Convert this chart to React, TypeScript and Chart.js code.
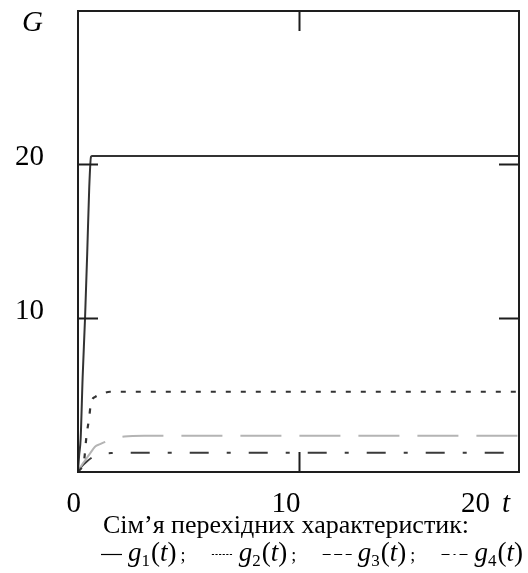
import React, { useEffect, useRef } from "react";
import { Chart, registerables } from "chart.js";

Chart.register(...registerables);

// ---- data ----
const t1 = [0, 0.05, 0.12, 0.21, 0.32, 0.42, 0.51, 0.59, 0.65, 20];
const g1 = [0, 1.0, 2.1, 6.1, 10, 14.3, 18.5, 20.5, 20.55, 20.55];

const t2 = [0, 0.1, 0.2, 0.27, 0.39, 0.5, 0.59, 0.8, 1.03, 1.45, 20];
const g2 = [0, 0.1, 0.3, 0.6, 2.35, 3.4, 4.45, 4.85, 5.0, 5.17, 5.17];

const t3 = [0, 0.2, 0.4, 0.55, 0.77, 1.0, 1.23, 1.6, 2.1, 3, 20];
const g3 = [0, 0.45, 0.85, 1.15, 1.58, 1.75, 1.9, 2.1, 2.25, 2.3, 2.3];

const t4 = [0, 0.2, 0.4, 0.6, 0.8, 1.0, 1.5, 2, 20];
const g4 = [0, 0.35, 0.62, 0.85, 1.0, 1.1, 1.17, 1.19, 1.19];

const xTicks = [0, 10, 20];
const yTicks = [10, 20];
const xTickLabels = ["0", "10", "20"];
const yTickLabels = ["10", "20"];
const xTitle = "t";
const yTitle = "G";
const captionTitle = "Сім’я перехідних характеристик:";
const seriesNames = ["g", "g", "g", "g"];
const seriesSubs = ["1", "2", "3", "4"];

const W = 528;
const H = 573;
const SERIF = '"Liberation Serif", "Times New Roman", serif';

const toPts = (ts: number[], vs: number[]) => ts.map((t, i) => ({ x: t, y: vs[i] }));

const sampleStyles: { dash: number[]; w: number }[] = [
  { dash: [], w: 21 },
  { dash: [2.2, 1.4], w: 21 },
  { dash: [8, 3.5], w: 29 },
  { dash: [8, 4, 2, 4], w: 27 },
];

const decorPlugin = {
  id: "mathcadDecor",
  afterDatasetsDraw(chart: any) {
    const ctx: CanvasRenderingContext2D = chart.ctx;
    const { left, right, top, bottom } = chart.chartArea;
    const xs = chart.scales.x;
    const ys = chart.scales.y;
    ctx.save();
    // frame
    ctx.strokeStyle = "#1e1e1e";
    ctx.lineWidth = 2;
    ctx.strokeRect(left, top, right - left, bottom - top + 1);
    // inner ticks
    const TL = 20;
    ctx.beginPath();
    yTicks.forEach((v) => {
      const py = Math.round(ys.getPixelForValue(v)) + 0.5;
      ctx.moveTo(left, py);
      ctx.lineTo(left + TL, py);
      ctx.moveTo(right, py);
      ctx.lineTo(right - TL, py);
    });
    xTicks.slice(1, -1).forEach((v) => {
      const px = Math.round(xs.getPixelForValue(v)) + 0.5;
      ctx.moveTo(px, bottom + 1);
      ctx.lineTo(px, bottom + 1 - TL);
      ctx.moveTo(px, top);
      ctx.lineTo(px, top + TL);
    });
    ctx.stroke();

    // tick labels
    ctx.fillStyle = "#000";
    ctx.font = `29px ${SERIF}`;
    ctx.textBaseline = "alphabetic";
    ctx.textAlign = "right";
    const xOff = [3, 2, -29];
    xTicks.forEach((v, i) => {
      ctx.fillText(xTickLabels[i], xs.getPixelForValue(v) + xOff[i], bottom + 41);
    });
    yTicks.forEach((v, i) => {
      ctx.fillText(yTickLabels[i], left - 34, ys.getPixelForValue(v) + 1);
    });
    ctx.textAlign = "left";
    ctx.font = `italic 29px ${SERIF}`;
    ctx.fillText(yTitle, 22, 31);
    ctx.fillText(xTitle, 502, bottom + 41);

    // caption line 1
    ctx.font = `26px ${SERIF}`;
    ctx.textAlign = "center";
    ctx.fillText(captionTitle, 286, 533);

    // caption line 2 (legend row), spread from x0 to x1
    ctx.textAlign = "left";
    const baseY = 561;
    const FS = 27;
    const SUB = 17;
    const SEMI = 18;
    const LG = 6; // sample -> name gap
    const SG = 4; // ")" -> ";" gap
    const meas = (f: string, s: string) => {
      ctx.font = f;
      return ctx.measureText(s).width;
    };
    const fIt = `italic ${FS}px ${SERIF}`;
    const fRm = `${FS}px ${SERIF}`;
    const fSub = `${SUB}px ${SERIF}`;
    const fSemi = `${SEMI}px ${SERIF}`;
    const groupW = (i: number) =>
      meas(fIt, seriesNames[i]) + meas(fSub, seriesSubs[i]) + meas(fRm, "(") + meas(fIt, "t") + meas(fRm, ")") + 1;
    const semiW = meas(fSemi, ";");
    const x0 = 101;
    const x1 = 523;
    let natural = 0;
    sampleStyles.forEach((s, i) => {
      natural += s.w + LG + groupW(i);
      if (i < 3) natural += SG + semiW;
    });
    const gap = (x1 - x0 - natural) / 3;
    let x = x0;
    sampleStyles.forEach((s, i) => {
      ctx.beginPath();
      ctx.setLineDash(s.dash);
      ctx.lineWidth = 1.2;
      ctx.strokeStyle = "#000";
      ctx.moveTo(x, baseY - 6.5);
      ctx.lineTo(x + s.w, baseY - 6.5);
      ctx.stroke();
      ctx.setLineDash([]);
      x += s.w + LG;
      ctx.font = fIt;
      ctx.fillText(seriesNames[i], x, baseY);
      x += meas(fIt, seriesNames[i]);
      ctx.font = fSub;
      ctx.fillText(seriesSubs[i], x, baseY + 5);
      x += meas(fSub, seriesSubs[i]) + 1;
      ctx.font = fRm;
      ctx.fillText("(", x, baseY);
      x += meas(fRm, "(");
      ctx.font = fIt;
      ctx.fillText("t", x, baseY);
      x += meas(fIt, "t");
      ctx.font = fRm;
      ctx.fillText(")", x, baseY);
      x += meas(fRm, ")");
      if (i < 3) {
        x += SG;
        ctx.font = fSemi;
        ctx.fillText(";", x, baseY);
        x += semiW + gap;
      }
    });
    ctx.restore();
  },
};

export default function App() {
  const ref = useRef<HTMLCanvasElement | null>(null);
  useEffect(() => {
    if (!ref.current) return;
    const chart = new Chart(ref.current, {
      type: "line",
      data: {
        datasets: [
          {
            data: toPts(t1, g1),
            borderColor: "#333333",
            borderWidth: 2,
            pointRadius: 0,
            cubicInterpolationMode: "monotone",
          },
          {
            data: toPts(t2, g2),
            borderColor: "#333333",
            borderWidth: 2.2,
            borderDash: [5, 10],
            pointRadius: 0,
            cubicInterpolationMode: "monotone",
          },
          {
            data: toPts(t3, g3),
            borderColor: "#b4b4b4",
            borderWidth: 2,
            borderDash: [41, 18],
            pointRadius: 0,
            cubicInterpolationMode: "monotone",
          },
          {
            data: toPts(t4, g4),
            borderColor: "#3a3a3a",
            borderWidth: 2,
            borderDash: [19, 18, 4, 18],
            pointRadius: 0,
            cubicInterpolationMode: "monotone",
          },
        ],
      },
      options: {
        responsive: false,
        devicePixelRatio: 1,
        animation: false,
        layout: { padding: { left: 78, top: 11, right: 9, bottom: 102 } },
        scales: {
          x: { type: "linear", min: 0, max: 20, display: false },
          y: { type: "linear", min: 0, max: 30, display: false },
        },
        plugins: { legend: { display: false }, tooltip: { enabled: false } },
      },
      plugins: [decorPlugin],
    });
    return () => chart.destroy();
  }, []);
  return (
    <div style={{ position: "absolute", left: 0, top: 0, width: W, height: H, background: "#fff" }}>
      <canvas ref={ref} width={W} height={H} style={{ width: W, height: H, display: "block" }} />
    </div>
  );
}
